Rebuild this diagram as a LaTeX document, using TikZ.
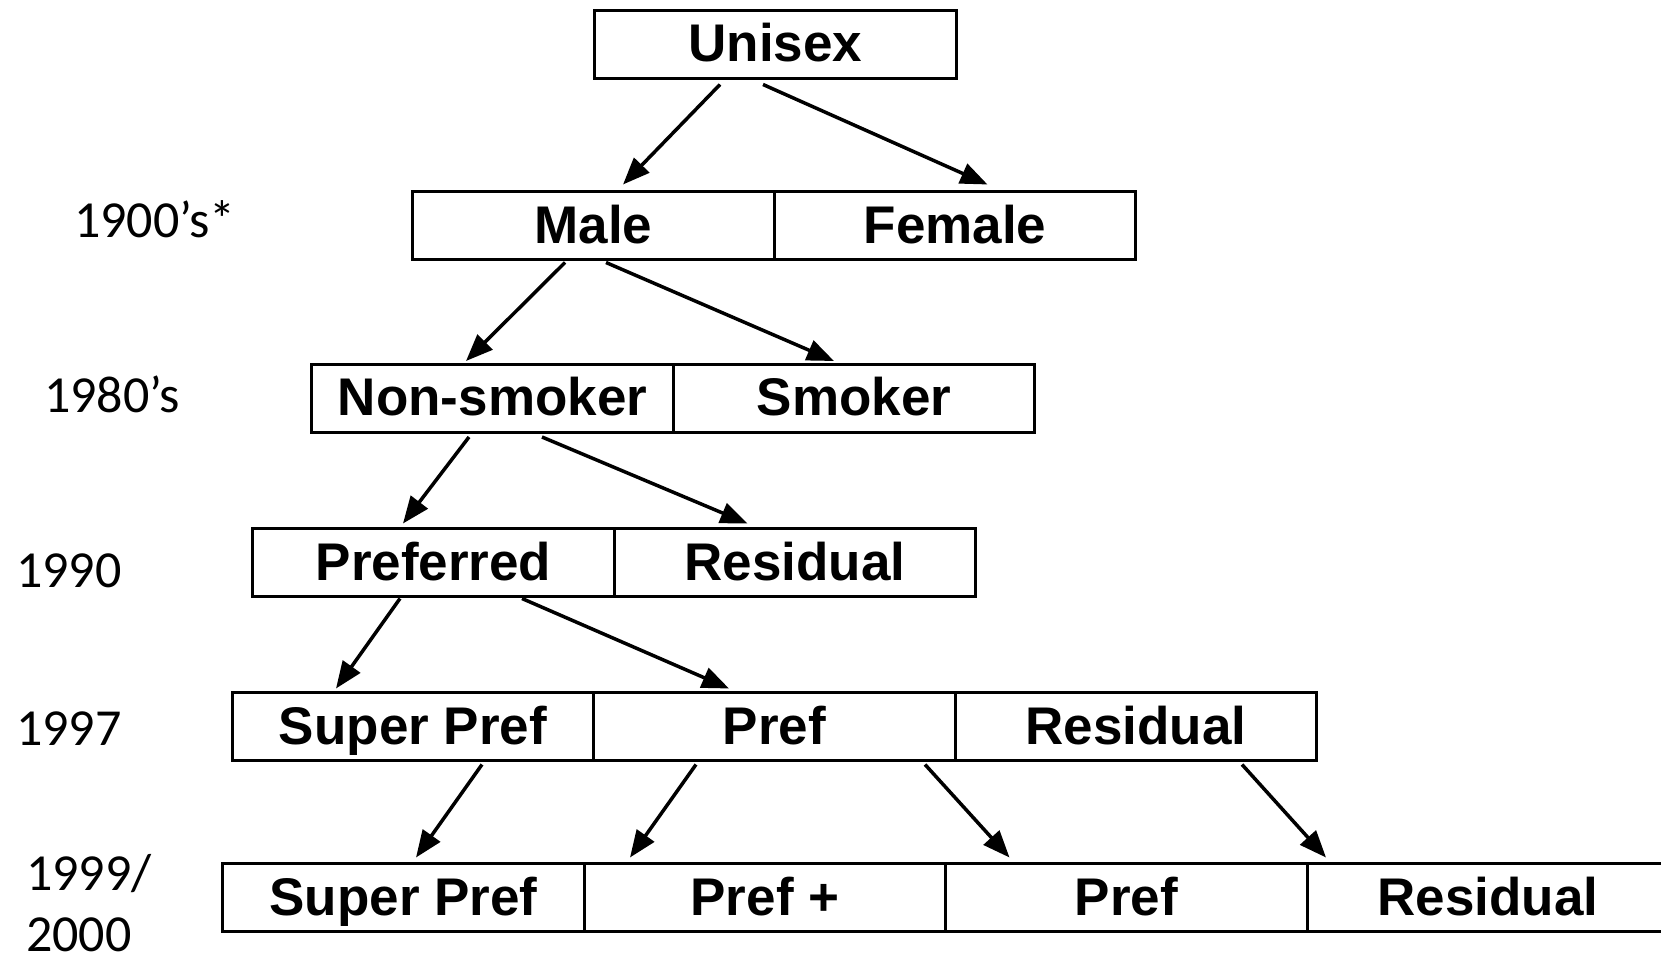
\documentclass[tikz,border=0pt]{standalone}
\usepackage{fontspec}
\setmainfont{Liberation Sans}
\newfontfamily\yearfont{Carlito}
\usetikzlibrary{positioning,arrows.meta}

\tikzset{
  cell/.style={
    rectangle,
    draw,
    line width=3pt,
    outer sep=0pt,
    inner sep=0pt,
    minimum width=361.5pt,
    minimum height=68pt,
    text height=38pt,
    text depth=3pt,
    font=\bfseries\fontsize{53}{60}\selectfont},
  year/.style={anchor=base west, inner sep=0pt, align=left,
    font=\yearfont\fontsize{52}{61}\selectfont},
  split/.style={-{Triangle[length=27pt,width=21pt]}, line width=3.5pt}
}

\begin{document}
\begin{tikzpicture}[x=1pt,y=-1pt]
  \clip (0,0) rectangle (1661,958);

  \node[cell] (unisex) at (775.5,44.5) {Unisex};

  \node[cell] (male) at (593.5,225.5) {Male};
  \node[cell, right=0pt of male] (female) {Female};

  \node[cell] (nonsmoker) at (492.5,398) {Non-smoker};
  \node[cell, right=0pt of nonsmoker] (smoker) {Smoker};

  \node[cell] (preferred) at (433.5,562.5) {Preferred};
  \node[cell, right=0pt of preferred] (residualA) {Residual};

  \node[cell] (superprefA) at (413,726.5) {Super Pref};
  \node[cell, right=0pt of superprefA] (prefA) {Pref};
  \node[cell, right=0pt of prefA] (residualB) {Residual};

  \node[cell] (superprefB) at (403.5,897.5) {Super Pref};
  \node[cell, right=0pt of superprefB] (prefplus) {Pref +};
  \node[cell, right=0pt of prefplus] (prefB) {Pref};
  \node[cell, right=0pt of prefB] (residualC) {Residual};

  \node[year] (y1900) at (74,237) {1900’s*};
  \node[year] (y1980) at (44,412) {1980’s};
  \node[year] (y1990) at (16,587) {1990};
  \node[year] (y1997) at (16,745) {1997};
  \node[year] (y2000) at (26,951) {1999/\\2000};

  \draw[split] ([xshift=-55.5pt,yshift=-6pt]unisex.south) -- ([xshift=29.5pt,yshift=7pt]male.north);
  \draw[split] ([xshift=-12.5pt,yshift=-6pt]unisex.south) -- ([xshift=32.5pt,yshift=7pt]female.north);
  \draw[split] ([xshift=-28.5pt,yshift=-3pt]male.south) -- ([xshift=-26.5pt,yshift=3pt]nonsmoker.north);
  \draw[split] ([xshift=12.5pt,yshift=-3pt]male.south) -- ([xshift=-20pt,yshift=3pt]smoker.north);
  \draw[split] ([xshift=-23.5pt,yshift=-5pt]nonsmoker.south) -- ([xshift=-30.5pt,yshift=5pt]preferred.north);
  \draw[split] ([xshift=49.5pt,yshift=-5pt]nonsmoker.south) -- ([xshift=-47.5pt,yshift=5pt]residualA.north);
  \draw[split] ([xshift=-33.5pt,yshift=-2pt]preferred.south) -- ([xshift=-77pt,yshift=4pt]superprefA.north);
  \draw[split] ([xshift=88.5pt,yshift=-2pt]preferred.south) -- ([xshift=-45.5pt,yshift=4pt]prefA.north);
  \draw[split] ([xshift=69pt,yshift=-4pt]superprefA.south) -- ([xshift=12.5pt,yshift=6pt]superprefB.north);
  \draw[split] ([xshift=-78.5pt,yshift=-4pt]prefA.south) -- ([xshift=-135pt,yshift=6pt]prefplus.north);
  \draw[split] ([xshift=150.5pt,yshift=-4pt]prefA.south) -- ([xshift=-117pt,yshift=6pt]prefB.north);
  \draw[split] ([xshift=106pt,yshift=-4pt]residualB.south) -- ([xshift=-162pt,yshift=6pt]residualC.north);
\end{tikzpicture}
\end{document}
